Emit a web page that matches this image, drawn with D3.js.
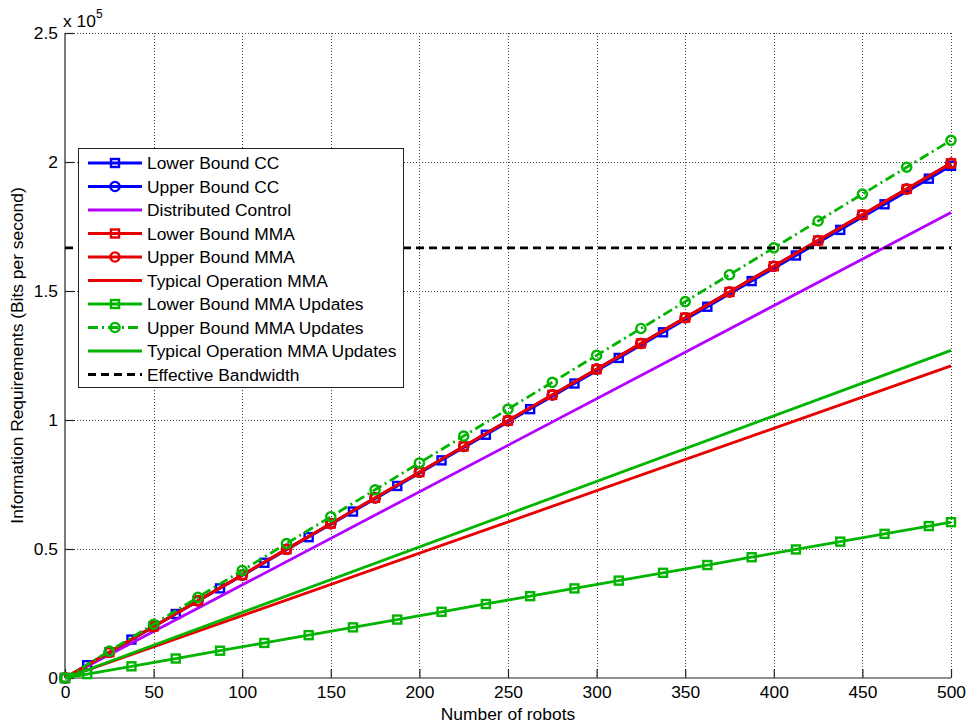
<!DOCTYPE html>
<html>
<head>
<meta charset="utf-8">
<script src="https://cdn.jsdelivr.net/npm/d3@7"></script>
<style>
  html, body { margin: 0; padding: 0; background: #fff; }
  svg { display: block; font-family: "Liberation Sans", Arial, sans-serif; }
</style>
</head>
<body>
<svg id="chart" width="966" height="726"></svg>
<script>
// Robot counts where the square and circle markers sit
const xSquares = [0, 12.5, 37.5, 62.5, 87.5, 112.5, 137.5, 162.5, 187.5, 212.5, 237.5,
                  262.5, 287.5, 312.5, 337.5, 362.5, 387.5, 412.5, 437.5, 462.5, 487.5, 500];
const xCircles = [0, 25, 50, 75, 100, 125, 150, 175, 200, 225, 250,
                  275, 300, 325, 350, 375, 400, 425, 450, 475, 500];
const xEnds = [0, 500];

// Information requirements (bits per second)
const lowerCC = [0, 4960, 14890, 24810, 34740, 44660, 54590, 64510, 74440, 84360, 94290,
                 104210, 114140, 124060, 133990, 143910, 153840, 163760, 173690, 183610, 193540, 198500];
const upperCC = [0, 9980, 19950, 29930, 39900, 49880, 59850, 69830, 79800, 89780, 99750,
                 109730, 119700, 129680, 139650, 149630, 159600, 169580, 179550, 189530, 199500];
const distributed = [0, 180400];
const lowerMMA = [0, 9980, 19950, 29930, 39900, 49880, 59850, 69830, 79800, 89780, 99750,
                  109730, 119700, 129680, 139650, 149630, 159600, 169580, 179550, 189530, 199500];
const upperMMA = [0, 9980, 19950, 29930, 39900, 49880, 59850, 69830, 79800, 89780, 99750,
                  109730, 119700, 129680, 139650, 149630, 159600, 169580, 179550, 189530, 199500];
const typicalMMA = [0, 121000];
const lowerUpdates = [0, 1510, 4530, 7550, 10570, 13590, 16610, 19630, 22650, 25670, 28690,
                      31710, 34730, 37750, 40770, 43790, 46810, 49830, 52850, 55870, 58890, 60400];
const upperUpdates = [0, 10420, 20840, 31260, 41680, 52100, 62520, 72940, 83360, 93780, 104200,
                      114620, 125040, 135460, 145880, 156300, 166720, 177140, 187560, 197980, 208400];
const typicalUpdates = [0, 127000];
const bandwidth = [166700, 166700];

const xTicks = [0, 50, 100, 150, 200, 250, 300, 350, 400, 450, 500];
const yTicks = [0, 50000, 100000, 150000, 200000, 250000];
const yTickLabels = ["0", "0.5", "1", "1.5", "2", "2.5"];

const BLUE = "#0000ff", PURPLE = "#b400ff", RED = "#e80000", GREEN = "#00b400";
const FONT = 17.4;

const series = [
  { name: "Lower Bound CC", xs: xSquares, ys: lowerCC, color: BLUE, marker: "square" },
  { name: "Upper Bound CC", xs: xCircles, ys: upperCC, color: BLUE, marker: "circle" },
  { name: "Distributed Control", xs: xEnds, ys: distributed, color: PURPLE, marker: null },
  { name: "Lower Bound MMA", xs: xCircles, ys: lowerMMA, color: RED, marker: "square" },
  { name: "Upper Bound MMA", xs: xCircles, ys: upperMMA, color: RED, marker: "circle" },
  { name: "Typical Operation MMA", xs: xEnds, ys: typicalMMA, color: RED, marker: null },
  { name: "Lower Bound MMA Updates", xs: xSquares, ys: lowerUpdates, color: GREEN, marker: "square" },
  { name: "Upper Bound MMA Updates", xs: xCircles, ys: upperUpdates, color: GREEN, marker: "circle", dash: "10,4,2,4" },
  { name: "Typical Operation MMA Updates", xs: xEnds, ys: typicalUpdates, color: GREEN, marker: null },
  { name: "Effective Bandwidth", xs: xEnds, ys: bandwidth, color: "#000", marker: null, dash: "8,5" }
];

const svg = d3.select("#chart");
const plotLeft = 65, plotRight = 951, plotTop = 33, plotBottom = 678;

const x = d3.scaleLinear().domain([0, 500]).range([plotLeft, plotRight]);
const y = d3.scaleLinear().domain([0, 250000]).range([plotBottom, plotTop]);

// Dotted grid
const grid = svg.append("g").attr("stroke", "#444").attr("stroke-width", 1)
  .attr("stroke-dasharray", "1,2").attr("shape-rendering", "crispEdges");
grid.selectAll("line.v").data(xTicks.slice(1)).join("line").attr("class", "v")
  .attr("x1", d => Math.round(x(d)) + 0.5).attr("x2", d => Math.round(x(d)) + 0.5)
  .attr("y1", plotTop).attr("y2", plotBottom);
grid.selectAll("line.h").data(yTicks.slice(1)).join("line").attr("class", "h")
  .attr("y1", d => Math.round(y(d)) + 0.5).attr("y2", d => Math.round(y(d)) + 0.5)
  .attr("x1", plotLeft).attr("x2", plotRight);

// Axes with inward ticks
const xAxis = d3.axisBottom(x).tickValues(xTicks).tickSize(-9).tickPadding(8).tickFormat(d3.format("d"));
const yAxis = d3.axisLeft(y).tickValues(yTicks).tickSize(-9).tickPadding(7)
  .tickFormat((d, i) => yTickLabels[i]);

const gx = svg.append("g").attr("transform", `translate(0,${plotBottom})`).call(xAxis);
const gy = svg.append("g").attr("transform", `translate(${plotLeft},0)`).call(yAxis);
[gx, gy].forEach(g => {
  g.select(".domain").attr("stroke", "#222").attr("stroke-width", 1.2);
  g.selectAll(".tick line").attr("stroke", "#222").attr("stroke-width", 1.2);
  g.selectAll(".tick text").attr("font-size", FONT).attr("fill", "#000")
    .attr("font-family", "Liberation Sans, Arial, sans-serif");
});
gx.select(".domain").attr("d", `M${plotLeft},0H${plotRight}`);
gy.select(".domain").attr("d", `M0,${plotBottom}V${plotTop}`);

// Scale factor above the y axis
const expo = svg.append("text").attr("x", 63).attr("y", 27).attr("font-size", FONT).attr("fill", "#000");
expo.append("tspan").text("x 10");
expo.append("tspan").attr("font-size", 12).attr("dy", -9).text("5");

// Axis titles
svg.append("text").attr("x", (plotLeft + plotRight) / 2).attr("y", 720)
  .attr("text-anchor", "middle").attr("font-size", FONT).text("Number of robots");
svg.append("text").attr("transform", `translate(23,${(plotTop + plotBottom) / 2}) rotate(-90)`)
  .attr("text-anchor", "middle").attr("font-size", FONT)
  .text("Information Requirements (Bits per second)");

// Series lines and markers
const line = d3.line().x(d => x(d[0])).y(d => y(d[1]));

function drawMarker(g, type, color) {
  if (type === "square") {
    g.append("rect").attr("x", -4).attr("y", -4).attr("width", 8).attr("height", 8)
      .attr("fill", "none").attr("stroke", color).attr("stroke-width", 2.4);
  } else if (type === "circle") {
    g.append("circle").attr("r", 4.6)
      .attr("fill", "none").attr("stroke", color).attr("stroke-width", 2.4);
  }
}

const plot = svg.append("g");
series.forEach(s => {
  const pts = s.xs.map((v, i) => [v, s.ys[i]]);
  const g = plot.append("g");
  g.append("path").datum(pts).attr("d", line)
    .attr("fill", "none").attr("stroke", s.color).attr("stroke-width", 2.8)
    .attr("stroke-dasharray", s.dash || null);
  if (s.marker) {
    pts.forEach(p => {
      const m = g.append("g").attr("transform", `translate(${x(p[0])},${y(p[1])})`);
      drawMarker(m, s.marker, s.color);
    });
  }
});

// Legend
const lg = svg.append("g");
const lgX = 78, lgY = 148, lgW = 325, lgH = 239, rowH = 23.5;
lg.append("rect").attr("x", lgX + 0.5).attr("y", lgY + 0.5).attr("width", lgW).attr("height", lgH)
  .attr("fill", "#fff").attr("stroke", "#222").attr("stroke-width", 1);
series.forEach((s, i) => {
  const cy = lgY + 15 + i * rowH;
  lg.append("line").attr("x1", 88).attr("x2", 142).attr("y1", cy).attr("y2", cy)
    .attr("stroke", s.color).attr("stroke-width", 2.8).attr("stroke-dasharray", s.dash || null);
  if (s.marker) {
    const m = lg.append("g").attr("transform", `translate(115,${cy})`);
    drawMarker(m, s.marker, s.color);
  }
  lg.append("text").attr("x", 147).attr("y", cy).attr("dy", "0.36em")
    .attr("font-size", FONT).attr("fill", "#000").text(s.name);
});
</script>
</body>
</html>
